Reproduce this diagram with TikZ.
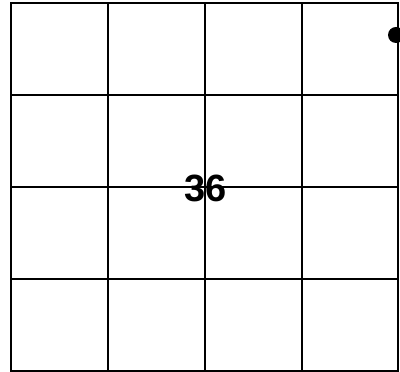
\documentclass[tikz,border=0pt]{standalone}
\usepackage{fontspec}
\setmainfont{Liberation Sans}
\usepackage{tikz}
\usetikzlibrary{positioning}

\tikzset{
  gridline/.style={line width=1.3pt},
  numlabel/.style={font=\fontsize{27}{30}\selectfont\bfseries, inner sep=0pt},
}

\begin{document}
\begin{tikzpicture}[x=0.025cm,y=-0.025cm]
    \useasboundingbox (0,0) rectangle (400,372);

    \draw[gridline, line width=1.6pt] (11,3) rectangle (398,371);
    \foreach \x in {108,205,302}
      \draw[gridline] (\x,3) -- (\x,371);
    \foreach \y in {95,187,279}
      \draw[gridline] (11,\y) -- (398,\y);

    \node[numlabel] (sum) at (206,188) {36};
    \fill (396,35) circle (0.2cm) coordinate (corner);
  \end{tikzpicture}
\end{document}
